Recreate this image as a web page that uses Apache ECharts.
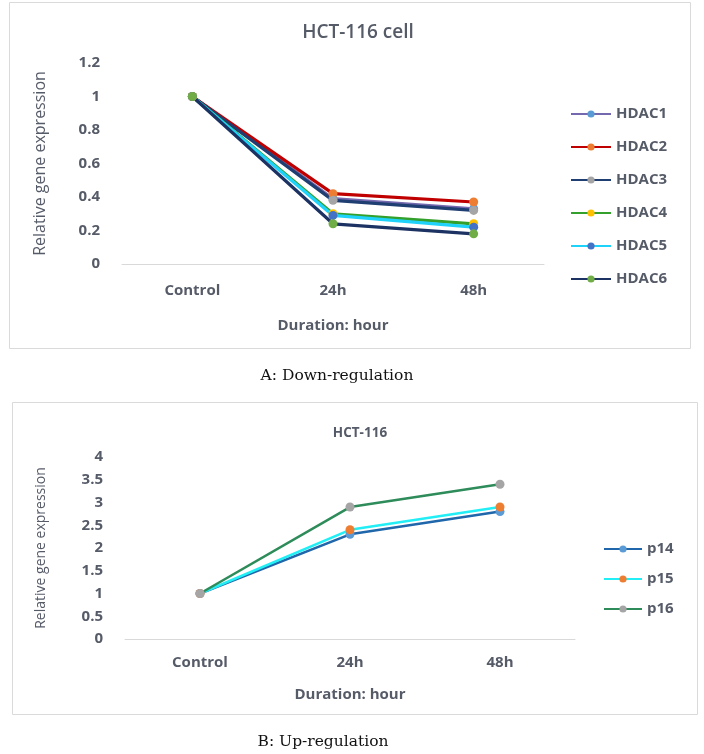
<!DOCTYPE html>
<html>
<head>
<meta charset="utf-8">
<script src="https://cdn.jsdelivr.net/npm/echarts@6/dist/echarts.min.js"></script>
<style>
html,body{margin:0;padding:0;background:#fff;}
#c{width:704px;height:754px;}
</style>
</head>
<body>
<div id="c"></div>
<script>
// ---- data ----
var categories = ['Control', '24h', '48h'];

var topTitle = 'HCT-116 cell';
var hdacNames = ['HDAC1', 'HDAC2', 'HDAC3', 'HDAC4', 'HDAC5', 'HDAC6'];
var hdac1 = [1, 0.39, 0.33];
var hdac2 = [1, 0.42, 0.37];
var hdac3 = [1, 0.38, 0.32];
var hdac4 = [1, 0.30, 0.24];
var hdac5 = [1, 0.29, 0.22];
var hdac6 = [1, 0.24, 0.18];
var topYTicks = { min: 0, max: 1.2, interval: 0.2 };

var bottomTitle = 'HCT-116';
var pNames = ['p14', 'p15', 'p16'];
var p14 = [1, 2.3, 2.8];
var p15 = [1, 2.4, 2.9];
var p16 = [1, 2.9, 3.4];
var bottomYTicks = { min: 0, max: 4, interval: 0.5 };

var yName = 'Relative gene expression';
var xName = 'Duration: hour';
var captionA = 'A: Down-regulation';
var captionB = 'B: Up-regulation';

// ---- styles ----
var hdacLine = ['#7468AE', '#C00000', '#1F3E72', '#33A02C', '#1FD2FA', '#1B3262'];
var hdacMark = ['#5B9BD5', '#ED7D31', '#A5A5A5', '#FFC000', '#4472C4', '#70AD47'];
var pLine = ['#1F66AA', '#22EEF5', '#2E8B5A'];
var pMark = ['#5B9BD5', '#ED7D31', '#A5A5A5'];
var textCol = '#565b68';
var font = 'Open Sans';

var topData = [hdac1, hdac2, hdac3, hdac4, hdac5, hdac6];
var botData = [p14, p15, p16];

var series = [];
hdacNames.forEach(function (n, i) {
  series.push({
    name: n, type: 'line', xAxisIndex: 0, yAxisIndex: 0,
    data: topData[i], symbol: 'circle', symbolSize: 9,
    lineStyle: { color: hdacLine[i], width: 3.2 },
    itemStyle: { color: hdacMark[i] },
    emphasis: { disabled: true }, animation: false
  });
});
pNames.forEach(function (n, i) {
  series.push({
    name: n, type: 'line', xAxisIndex: 1, yAxisIndex: 1,
    data: botData[i], symbol: 'circle', symbolSize: 9,
    lineStyle: { color: pLine[i], width: 2.5 },
    itemStyle: { color: pMark[i] },
    emphasis: { disabled: true }, animation: false
  });
});

function xAxis(gi, labelMargin, nameGap) {
  return {
    type: 'category', gridIndex: gi, data: categories, boundaryGap: true,
    axisLine: { lineStyle: { color: '#D9D9D9', width: 1 } },
    axisTick: { show: false },
    axisLabel: { color: textCol, fontFamily: font, fontWeight: 'bold', fontSize: 15, margin: labelMargin },
    name: xName, nameLocation: 'middle', nameGap: nameGap,
    nameTextStyle: { color: textCol, fontFamily: font, fontWeight: 'bold', fontSize: 15 }
  };
}
function yAxis(gi, t, nameGap, nameSize) {
  return {
    type: 'value', gridIndex: gi, min: t.min, max: t.max, interval: t.interval,
    splitLine: { show: false },
    axisLine: { show: false }, axisTick: { show: false },
    axisLabel: { color: textCol, fontFamily: font, fontWeight: 'bold', fontSize: 15, margin: 22 },
    name: yName, nameLocation: 'middle', nameGap: nameGap, nameRotate: 90,
    nameTextStyle: { color: textCol, fontFamily: font, fontWeight: 500, fontSize: nameSize }
  };
}

var legendText = { color: textCol, fontFamily: font, fontWeight: 'bold', fontSize: 15 };

var chart = echarts.init(document.getElementById('c'), null, { renderer: 'canvas' });
chart.setOption({
  animation: false,
  backgroundColor: '#fff',
  title: [
    { text: topTitle, left: 353, top: 18, textAlign: 'center',
      textStyle: { color: textCol, fontFamily: font, fontWeight: 600, fontSize: 19 } },
    { text: bottomTitle, left: 355, top: 421, textAlign: 'center',
      textStyle: { color: textCol, fontFamily: font, fontWeight: 'bold', fontSize: 13.5 } }
  ],
  legend: [
    { data: hdacNames, orient: 'vertical', left: 570, top: 106.5, padding: 0,
      itemWidth: 40, itemHeight: 9, itemGap: 18, textStyle: legendText },
    { data: pNames, orient: 'vertical', left: 603, top: 541.5, padding: 0,
      itemWidth: 38, itemHeight: 9, itemGap: 15, textStyle: legendText }
  ],
  grid: [
    { left: 122, right: 160, top: 63, bottom: 490 },
    { left: 125, right: 129, top: 457, bottom: 115 }
  ],
  xAxis: [xAxis(0, 19, 54), xAxis(1, 16, 48)],
  yAxis: [yAxis(0, topYTicks, 74, 16), yAxis(1, bottomYTicks, 77, 14)],
  series: series,
  graphic: [
    { type: 'rect', shape: { x: 9.5, y: 2.5, width: 681, height: 346 },
      style: { fill: null, stroke: '#DADADA', lineWidth: 1 }, silent: true },
    { type: 'rect', shape: { x: 12.5, y: 402.5, width: 685, height: 312 },
      style: { fill: null, stroke: '#DADADA', lineWidth: 1 }, silent: true },
    { type: 'text', x: 337, y: 376,
      style: { text: captionA, fill: '#111', font: '15.5px "DejaVu Serif"', textAlign: 'center', textVerticalAlign: 'middle' } },
    { type: 'text', x: 323, y: 742,
      style: { text: captionB, fill: '#111', font: '15.5px "DejaVu Serif"', textAlign: 'center', textVerticalAlign: 'middle' } }
  ]
});
</script>
</body>
</html>
